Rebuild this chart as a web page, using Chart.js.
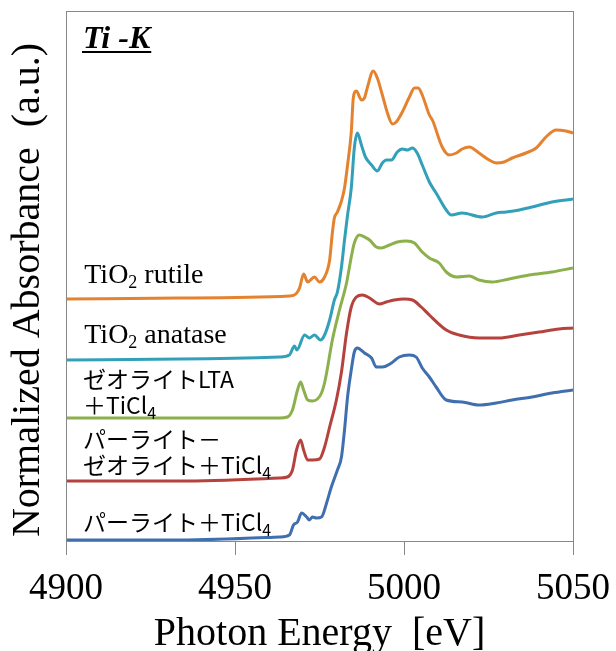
<!DOCTYPE html>
<html>
<head>
<meta charset="utf-8">
<script src="https://cdn.jsdelivr.net/npm/chart.js@4.4.0/dist/chart.umd.min.js"></script>
<style>
html,body{margin:0;padding:0;background:#fff}
#wrap{width:616px;height:651px}
</style>
</head>
<body>
<div id="wrap"><canvas id="c"></canvas></div>
<script>
// Ti K-edge XANES, stacked spectra: [photon energy (eV), normalized absorbance + offset]
const rutile = [[4900,2.42],[4933.7,2.43],[4966.1,2.45],[4968,2.47],[4969.1,2.53],[4970.3,2.67],[4971.5,2.59],[4973.5,2.64],[4975,2.59],[4976.5,2.64],[4978,2.81],[4978.8,3.08],[4979.4,3.23],[4980.3,3.29],[4981.5,3.40],[4982.4,3.53],[4983.3,3.76],[4984.4,4.09],[4985,4.43],[4985.9,4.50],[4987.4,4.41],[4988.3,4.43],[4989.2,4.54],[4990.9,4.70],[4992.1,4.63],[4993.6,4.46],[4995.1,4.28],[4996.6,4.17],[4997.7,4.19],[4999.5,4.29],[5001.6,4.44],[5003.1,4.53],[5004.2,4.53],[5005.4,4.46],[5007.5,4.26],[5008.4,4.21],[5011.3,3.94],[5013.4,3.86],[5015.5,3.88],[5017.2,3.92],[5019.3,3.94],[5022.2,3.88],[5025.2,3.81],[5027.3,3.78],[5029.6,3.79],[5032,3.83],[5036.1,3.88],[5039.1,3.93],[5042,4.04],[5045,4.11],[5047.9,4.10],[5050,4.08]];
const anatase = [[4900,1.81],[4933.7,1.82],[4963.2,1.84],[4966.1,1.86],[4967.6,1.95],[4968.3,1.91],[4970.6,2.06],[4972,2.03],[4973.5,2.06],[4975.3,2.01],[4976.5,2.06],[4978,2.21],[4979.4,2.41],[4980.3,2.49],[4981.5,2.74],[4982.4,3.01],[4983.3,3.26],[4984.4,3.53],[4985.3,3.93],[4986.2,4.08],[4987.4,3.96],[4988.6,3.84],[4990.4,3.76],[4992.1,3.70],[4993.6,3.78],[4994.8,3.81],[4996.3,3.81],[4998,3.89],[4999.5,3.92],[5001,3.91],[5002.5,3.93],[5003.9,3.88],[5005.4,3.76],[5007.5,3.59],[5009.5,3.48],[5012.5,3.31],[5014,3.26],[5017.2,3.28],[5023.1,3.24],[5027.3,3.28],[5030.2,3.29],[5034.1,3.31],[5037.9,3.34],[5043.8,3.39],[5050,3.42]];
const ltaTiCl4 = [[4900,1.23],[4933.7,1.23],[4963.2,1.23],[4965.5,1.24],[4967,1.31],[4968.5,1.51],[4969.4,1.59],[4970.3,1.51],[4971.5,1.41],[4972.9,1.40],[4974.4,1.42],[4975.6,1.48],[4976.5,1.58],[4977.1,1.68],[4978.8,2.01],[4980.9,2.31],[4983,2.58],[4984.4,2.84],[4985.3,2.98],[4986.8,3.06],[4988.3,3.04],[4989.8,3.01],[4991.8,2.94],[4993.3,2.93],[4995.7,2.96],[4998,2.99],[5000.7,3.00],[5003.1,2.98],[5005.4,2.89],[5007.5,2.83],[5010.4,2.78],[5012.5,2.69],[5015.5,2.64],[5019.3,2.65],[5022.2,2.61],[5026.1,2.59],[5031.1,2.62],[5037,2.66],[5043.8,2.69],[5050,2.73]];
const perliteZeoTiCl4 = [[4900,0.60],[4933.7,0.60],[4963.2,0.63],[4965.5,0.64],[4967,0.71],[4968.2,0.91],[4969.4,1.01],[4970.3,0.91],[4971.5,0.81],[4972.9,0.81],[4975,0.82],[4976.5,0.94],[4978,1.14],[4980,1.41],[4981.5,1.69],[4983,2.08],[4984.4,2.34],[4985.9,2.44],[4987.7,2.46],[4989.8,2.43],[4992.7,2.37],[4994.8,2.39],[4997.1,2.41],[5000.1,2.42],[5002.5,2.41],[5005.1,2.34],[5007.5,2.26],[5012.5,2.11],[5016.3,2.06],[5022.2,2.03],[5028.1,2.03],[5034.1,2.06],[5040,2.09],[5045.9,2.12],[5050,2.13]];
const perliteTiCl4 = [[4900,0.01],[4933.7,0.01],[4963.2,0.04],[4966.1,0.06],[4967.3,0.16],[4968.5,0.19],[4969.7,0.28],[4971.2,0.24],[4972,0.21],[4972.9,0.24],[4974.1,0.23],[4975.6,0.24],[4977.1,0.38],[4978.5,0.54],[4980.3,0.71],[4981.5,0.84],[4982.4,1.11],[4983.3,1.44],[4984.4,1.71],[4985.3,1.89],[4986.2,1.93],[4988.3,1.88],[4990.4,1.83],[4991.8,1.74],[4993.6,1.74],[4996.3,1.78],[4998.6,1.84],[5001.6,1.86],[5003.6,1.84],[5005.4,1.73],[5007.5,1.64],[5009.5,1.54],[5012.5,1.41],[5017.2,1.39],[5022.2,1.36],[5027.3,1.38],[5032,1.41],[5037.9,1.44],[5043.8,1.48],[5050,1.51]];

const xTicks = [4900, 4950, 5000, 5050];
const seriesNames = ['TiO2 rutile','TiO2 anatase','ゼオライトLTA+TiCl4','パーライト-ゼオライト+TiCl4','パーライト+TiCl4'];
const seriesData = [rutile, anatase, ltaTiCl4, perliteZeoTiCl4, perliteTiCl4];
const colors = ['#e4822f','#32a0b9','#8cb04c','#b6423e','#406fb0'];

// curve labels: text pieces [text, isSubscript], anchored at (energy, y)
const notes = [
  {parts:[['TiO',0],['2',1],[' rutile',0]], jp:false, e:4905.4, y:2.58},
  {parts:[['TiO',0],['2',1],[' anatase',0]], jp:false, e:4905.4, y:1.98},
  {parts:[['ゼオライトLTA',0]], jp:true, e:4905.0, y:1.53},
  {parts:[['＋TiCl',0],['4',1]], jp:true, e:4905.0, y:1.27},
  {parts:[['パーライト－',0]], jp:true, e:4905.0, y:0.93},
  {parts:[['ゼオライト＋TiCl',0],['4',1]], jp:true, e:4905.0, y:0.67},
  {parts:[['パーライト＋TiCl',0],['4',1]], jp:true, e:4905.0, y:0.10}
];

const frame = {
  id:'frame',
  afterDatasetsDraw(chart){
    const a = chart.chartArea, c = chart.ctx;
    c.save();
    c.strokeStyle = '#888'; c.lineWidth = 1;
    c.strokeRect(Math.round(a.left)+0.5, Math.round(a.top)+0.5, Math.round(a.right-a.left), Math.round(a.bottom-a.top));
    c.restore();
  }
};

const curveLabels = {
  id:'curveLabels',
  afterDraw(chart){
    const c = chart.ctx, xs = chart.scales.x, ys = chart.scales.y, a = chart.chartArea;
    c.save();
    c.fillStyle = '#000';
    c.textBaseline = 'alphabetic';
    notes.forEach(n=>{
      let x = xs.getPixelForValue(n.e);
      const y = ys.getPixelForValue(n.y);
      n.parts.forEach(([t,sub])=>{
        if(n.jp) c.font = (sub ? '16px' : '23px') + ' "Noto Sans CJK JP"';
        else c.font = (sub ? '18px' : '28px') + ' "Liberation Serif"';
        c.fillText(t, x, sub ? y+5 : y);
        x += c.measureText(t).width;
      });
    });
    // element tag
    c.font = 'italic bold 32px "Liberation Serif"';
    const tag = 'Ti -K';
    const tx = a.left + 17, ty = a.top + 37;
    c.fillText(tag, tx, ty);
    const w = c.measureText(tag).width;
    c.fillRect(tx-1, ty+3, w+2, 2);
    c.restore();
  }
};

new Chart(document.getElementById('c').getContext('2d'), {
  type:'line',
  data:{
    datasets: seriesData.map((d,i)=>({
      label: seriesNames[i],
      data: d.map(p=>({x:p[0], y:p[1]})),
      borderColor: colors[i],
      backgroundColor: colors[i],
      borderWidth: 3,
      pointRadius: 0,
      fill: false,
      cubicInterpolationMode: 'monotone'
    }))
  },
  options:{
    responsive:true, maintainAspectRatio:false, animation:false,
    layout:{padding:{top:11, right:42, left:8, bottom:0}},
    plugins:{legend:{display:false}, tooltip:{enabled:false}},
    scales:{
      x:{
        type:'linear', min:4900, max:5050,
        afterBuildTicks(s){ s.ticks = xTicks.map(v=>({value:v})); },
        ticks:{font:{family:'Liberation Serif', size:37, lineHeight:'56px'}, color:'#000', padding:6, maxRotation:0, autoSkip:false, callback:v=>String(v)},
        grid:{drawOnChartArea:false, drawTicks:true, tickLength:14, color:'#888'},
        border:{color:'#888'},
        title:{display:true, text:'Photon Energy\u2002[eV]', color:'#000', font:{family:'Liberation Serif', size:40, lineHeight:'22px'}, padding:{top:0, bottom:6}}
      },
      y:{
        min:0, max:5.3,
        ticks:{display:false},
        grid:{display:false, drawTicks:false},
        border:{display:true, color:'#888'},
        title:{display:true, text:'Normalized Absorbance\u2002(a.u.)\u2002\u2009', color:'#000', font:{family:'Liberation Serif', size:40, lineHeight:1}, padding:{top:0, bottom:18}}
      }
    }
  },
  plugins:[frame, curveLabels]
});
</script>
</body>
</html>
